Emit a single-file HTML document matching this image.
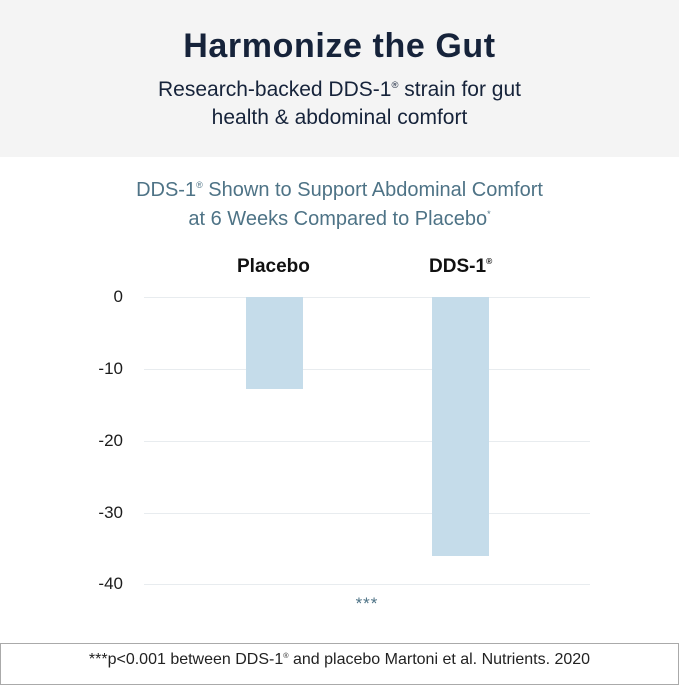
<!DOCTYPE html>
<html><head><style>
body{margin:0;width:679px;height:679px;position:relative;background:#fff;font-family:"Liberation Sans",sans-serif;overflow:hidden}
.hdr{position:absolute;left:0;top:0;width:679px;height:157px;background:#f4f4f4}
.t{position:absolute;width:679px;text-align:center}
.grid{position:absolute;left:144px;width:446px;height:1px;background:#e8ecef}
.lab{position:absolute;width:60px;left:63px;text-align:right;font-size:17px;color:#1c1c1c;line-height:20px}
.bar{position:absolute;background:#c5dcea;width:57px;top:297px}
sup{font-size:45%;line-height:0;vertical-align:0;position:relative;top:-0.9em}
</style></head><body>
<div class="hdr"></div>
<div class="t" style="top:27px;font-size:34px;font-weight:bold;color:#16233a;letter-spacing:0.6px">Harmonize the Gut</div>
<div class="t" style="top:76px;font-size:21px;line-height:28px;color:#16233a">Research-backed DDS-1<sup>®</sup> strain for gut<br>health &amp; abdominal comfort</div>
<div class="t" style="top:176px;font-size:20px;line-height:29px;color:#4e7386">DDS-1<sup>®</sup> Shown to Support Abdominal Comfort<br>at 6 Weeks Compared to Placebo<sup>*</sup></div>
<div class="t" style="top:256px;left:-15px;width:580px;font-size:19px;font-weight:bold;color:#111;text-align:left"><span style="position:absolute;left:252px">Placebo</span><span style="position:absolute;left:444px">DDS-1<sup>®</sup></span></div>
<div class="grid" style="top:297px"></div>
<div class="grid" style="top:369px"></div>
<div class="grid" style="top:441px"></div>
<div class="grid" style="top:513px"></div>
<div class="grid" style="top:584px"></div>
<div class="lab" style="top:287px">0</div>
<div class="lab" style="top:359px">-10</div>
<div class="lab" style="top:431px">-20</div>
<div class="lab" style="top:503px">-30</div>
<div class="lab" style="top:574px">-40</div>
<div class="bar" style="left:246px;height:92px"></div>
<div class="bar" style="left:432px;height:259px"></div>
<div style="position:absolute;left:317px;width:100px;text-align:center;top:594px;font-size:17px;color:#4e7386;letter-spacing:1px">***</div>
<div style="position:absolute;left:0;top:643px;width:677px;height:40px;border:1px solid #aaa"></div>
<div class="t" style="top:651px;font-size:16px;color:#222">***p&lt;0.001 between DDS-1<sup>®</sup> and placebo Martoni et al. Nutrients. 2020</div>
</body></html>
